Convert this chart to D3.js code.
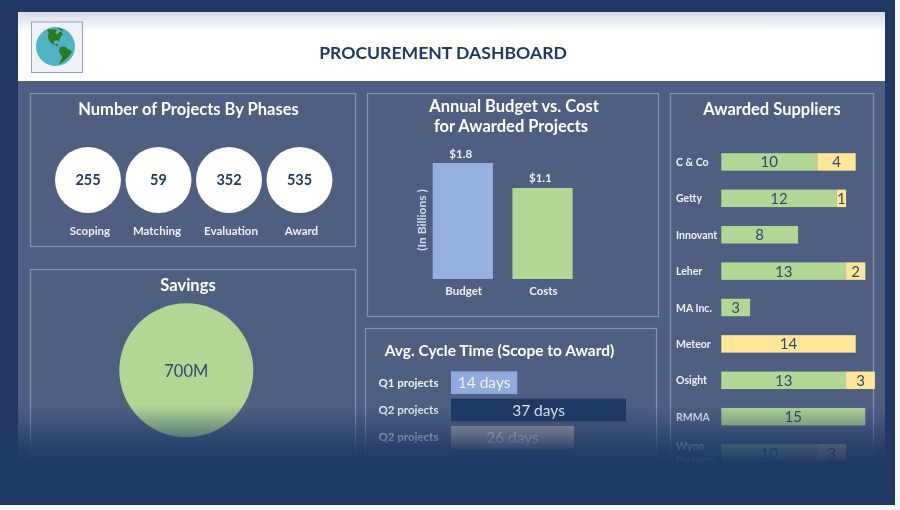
<!DOCTYPE html>
<html>
<head>
<meta charset="utf-8">
<script src="https://cdn.jsdelivr.net/npm/d3@7"></script>
<style>
  html, body { margin: 0; padding: 0; background: #f4f5f8; }
  svg { display: block; font-family: Lato, "Open Sans", sans-serif; filter: blur(0.5px); }
</style>
</head>
<body>
<svg id="chart" width="900" height="510"></svg>
<script>
// chart data
const phaseNames = ["Scoping", "Matching", "Evaluation", "Award"];
const phaseCounts = [255, 59, 352, 535];

const savingsLabel = "700M";

const budgetNames = ["Budget", "Costs"];
const budgetValues = [1.8, 1.1];

const cycleNames = ["Q1 projects", "Q2 projects", "Q2 projects"];
const cycleDays = [14, 37, 26];
const cycleColors = ["#8faadc", "#1f3864", "#a5a5a5"];

const supplierNames = ["C & Co", "Getty", "Innovant", "Leher", "MA Inc.", "Meteor", "Osight", "RMMA", "Wynn Partners"];
const supplierGreen = [10, 12, 8, 13, 3, 0, 13, 15, 10];
const supplierYellow = [4, 1, 0, 2, 0, 14, 3, 0, 3];

// rough outline of the Americas for the logo [lon, lat]
const northAmerica = [[-165,65],[-155,71],[-125,70],[-95,72],[-80,68],[-93,58],[-80,52],[-65,60],[-56,50],[-66,44],[-76,35],[-81,26],[-84,30],[-97,27],[-95,18],[-87,20],[-83,10],[-79,8],[-90,14],[-105,21],[-117,33],[-124,42],[-130,55],[-150,60]];
const southAmerica = [[-78,8],[-62,10],[-50,0],[-35,-7],[-39,-17],[-48,-26],[-58,-38],[-66,-45],[-70,-54],[-74,-45],[-71,-20],[-81,-5]];
const greenland = [[-50,82],[-22,80],[-24,70],[-43,60],[-53,68]];

const navy = "#1f3864";
const panelFill = "#4f5f82";
const textLight = "#eef1f6";

const svg = d3.select("#chart");

// page background and header
const defs = svg.append("defs");

const headerGrad = defs.append("linearGradient").attr("id", "headerGrad").attr("x2", 0).attr("y2", 1);
headerGrad.append("stop").attr("offset", 0).attr("stop-color", "#d8dce6");
headerGrad.append("stop").attr("offset", 0.3).attr("stop-color", "#ffffff");

// the fade at the bottom of the dashboard
const fadeGrad = defs.append("linearGradient").attr("id", "fadeGrad").attr("x2", 0).attr("y2", 1);
[[0, 0], [0.4, 0.42], [0.7, 0.82], [1, 1]].forEach((s) => {
    fadeGrad.append("stop").attr("offset", s[0]).attr("stop-color", navy).attr("stop-opacity", s[1]);
});

svg.append("rect").attr("width", 895).attr("height", 505).attr("fill", navy);
svg.append("rect").attr("x", 18).attr("y", 81).attr("width", 867).attr("height", 390).attr("fill", panelFill);
svg.append("rect").attr("x", 18).attr("y", 12).attr("width", 867).attr("height", 69).attr("fill", "url(#headerGrad)");

svg.append("text").attr("x", 443).attr("y", 58.5)
    .attr("text-anchor", "middle").attr("font-size", 17.6).attr("font-weight", 700).attr("fill", navy)
    .text("PROCUREMENT DASHBOARD");

// logo
svg.append("rect").attr("x", 31.5).attr("y", 22).attr("width", 51).attr("height", 50.5)
    .attr("fill", "#eef1f6").attr("stroke", "#8fa3c4");
const globe = d3.geoOrthographic().rotate([92, -12]).scale(19.5).translate([55.5, 46.5]);
svg.append("circle").attr("cx", 55.5).attr("cy", 46.5).attr("r", 19.5).attr("fill", "#4fb3c6");
const outline = d3.line().x(p => globe(p)[0]).y(p => globe(p)[1]).curve(d3.curveCatmullRomClosed);
[northAmerica, southAmerica, greenland].forEach((shape) => {
    svg.append("path").attr("d", outline(shape)).attr("fill", "#2c7a1f");
});

// panel frames
function addPanel(x, y, w, h) {
    svg.append("rect").attr("x", x).attr("y", y).attr("width", w).attr("height", h)
        .attr("fill", "none").attr("stroke", "#8593ae").attr("stroke-width", 1.2);
}
function addTitle(text, x, y, size) {
    svg.append("text").attr("x", x).attr("y", y).attr("text-anchor", "middle")
        .attr("font-size", size || 16.5).attr("font-weight", 700).attr("fill", "#ffffff").text(text);
}
function addLabel(text, x, y, anchor) {
    return svg.append("text").attr("x", x).attr("y", y).attr("text-anchor", anchor || "middle")
        .attr("font-size", 11.5).attr("font-weight", 700).attr("fill", textLight).text(text);
}

addPanel(30.5, 93.5, 325, 153);
addPanel(30.5, 269.5, 325, 210);
addPanel(367.5, 93.5, 291, 223);
addPanel(365.5, 328.5, 291, 150);
addPanel(670.5, 93.5, 203, 380);

// number of projects by phase
addTitle("Number of Projects By Phases", 188.5, 115);
const phaseX = d3.scalePoint().domain(phaseNames).range([88, 299.5]);
phaseNames.forEach((name, i) => {
    svg.append("circle").attr("cx", phaseX(name)).attr("cy", 180).attr("r", 33).attr("fill", "#ffffff");
    svg.append("text").attr("x", phaseX(name)).attr("y", 185).attr("text-anchor", "middle")
        .attr("font-size", 14.5).attr("font-weight", 700).attr("fill", navy).text(phaseCounts[i]);
    addLabel(name, phaseX(name) + (i === 1 ? -1.5 : 2), 235);
});

// savings
addTitle("Savings", 188, 291);
svg.append("circle").attr("cx", 186.3).attr("cy", 370.3).attr("r", 67).attr("fill", "#b2d794");
svg.append("text").attr("x", 186.3).attr("y", 376.5).attr("text-anchor", "middle")
    .attr("font-size", 16.5).attr("fill", "#2f4a6d").text(savingsLabel);

// annual budget vs cost
addTitle("Annual Budget vs. Cost", 514, 112);
addTitle("for Awarded Projects", 511, 132);
const budgetX = d3.scaleBand().domain(budgetNames).range([432.7, 572.6]).paddingInner(0.245);
// the baseline in the picture is not at zero, so the domain starts below it
const budgetY = d3.scaleLinear().domain([-1.45, 1.8]).range([279, 163]);
budgetNames.forEach((name, i) => {
    let value = budgetValues[i];
    svg.append("rect").attr("x", budgetX(name)).attr("y", budgetY(value))
        .attr("width", budgetX.bandwidth()).attr("height", budgetY(-1.45) - budgetY(value))
        .attr("fill", i === 0 ? "#95b1e0" : "#b2d794");
    addLabel("$" + value.toFixed(1), budgetX(name) + 28, budgetY(value) - 5.5);
    addLabel(name, budgetX(name) + 31, 295);
});
svg.append("text").attr("transform", "translate(426,220) rotate(-90)").attr("text-anchor", "middle")
    .attr("font-size", 12).attr("font-weight", 700).attr("fill", "#d5dbe8").text("(In Billions )");

// avg. cycle time
addTitle("Avg. Cycle Time (Scope to Award)", 499.5, 355.5, 15.5);
const cycleX = d3.scaleLinear().domain([0, 37]).range([451, 626]);
const cycleY = d3.scaleBand().domain(d3.range(cycleDays.length)).range([371.35, 448.65]).paddingInner(0.168);
cycleDays.forEach((days, i) => {
    let yMid = cycleY(i) + cycleY.bandwidth() / 2;
    svg.append("rect").attr("x", cycleX(0)).attr("y", cycleY(i))
        .attr("width", cycleX(days) - cycleX(0)).attr("height", cycleY.bandwidth())
        .attr("fill", cycleColors[i]);
    svg.append("text").attr("x", (cycleX(0) + cycleX(days)) / 2).attr("y", yMid + 5.5)
        .attr("text-anchor", "middle").attr("font-size", 15.5).attr("fill", "#eef1f6").text(days + " days");
    addLabel(cycleNames[i], 378.5, yMid + 4, "start");
});

// awarded suppliers
addTitle("Awarded Suppliers", 772, 115);
const supplierX = d3.scaleLinear().domain([0, 15]).range([721.3, 865.3]);
const supplierY = d3.scaleBand().domain(supplierNames).range([153.2, 461.8]).paddingInner(0.52);
supplierNames.forEach((name, i) => {
    let y = supplierY(name);
    let green = supplierGreen[i];
    let yellow = supplierYellow[i];
    let yMid = y + supplierY.bandwidth() / 2;

    [[0, green, "#b2d794"], [green, yellow, "#ffe699"]].forEach((seg) => {
        if (seg[1] === 0) return;
        svg.append("rect").attr("x", supplierX(seg[0])).attr("y", y)
            .attr("width", supplierX(seg[0] + seg[1]) - supplierX(seg[0])).attr("height", supplierY.bandwidth())
            .attr("fill", seg[2]);
        svg.append("text").attr("x", supplierX(seg[0] + seg[1] / 2)).attr("y", yMid + 5.5)
            .attr("text-anchor", "middle").attr("font-size", 15).attr("fill", "#2f4a6d").text(seg[1]);
    });

    // the last name wraps onto two lines
    let words = name === "Wynn Partners" ? name.split(" ") : [name];
    words.forEach((word, j) => {
        addLabel(word, 676, yMid + 4 + (j - (words.length - 1) / 2) * 14, "start").attr("font-size", 10.5);
    });
});

// fade everything out towards the bottom
svg.append("rect").attr("x", 18).attr("y", 405).attr("width", 867).attr("height", 60).attr("fill", "url(#fadeGrad)");
svg.append("rect").attr("x", 18).attr("y", 465).attr("width", 867).attr("height", 20).attr("fill", navy);
</script>
</body>
</html>
